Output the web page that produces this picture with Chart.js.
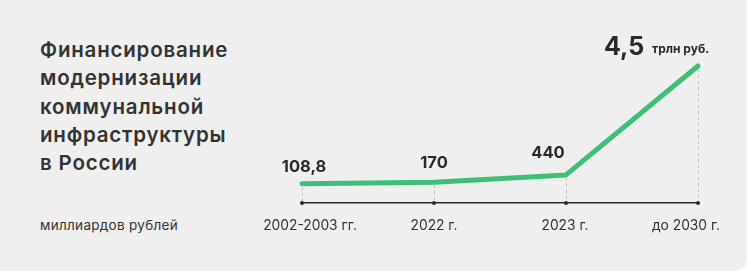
<!DOCTYPE html>
<html lang="ru">
<head>
<meta charset="utf-8">
<script src="https://cdn.jsdelivr.net/npm/chart.js@4.4.1/dist/chart.umd.min.js"></script>
<style>
  html, body { margin: 0; padding: 0; background: #fff; }
  body { width: 751px; height: 273px; overflow: hidden; position: relative; font-family: Inter, "Open Sans", sans-serif; }
  .card { position: absolute; left: -12px; top: -12px; width: 759px; height: 283px; background: #efefef; border-radius: 12px; }
  .title { position: absolute; left: 40px; top: 36px; font-size: 20.5px; font-weight: 600; line-height: 28.3px; color: #333; letter-spacing: 0.8px; }
  .units { position: absolute; left: 40px; top: 217px; font-size: 13.5px; color: #333; letter-spacing: 0.3px; }
  #wrap { position: absolute; left: 0; top: 0; width: 751px; height: 273px; }
</style>
</head>
<body>
<div class="card"></div>
<div class="title">Финансирование<br>модернизации<br>коммунальной<br>инфраструктуры<br>в России</div>
<div class="units">миллиардов рублей</div>
<div id="wrap"><canvas id="chart"></canvas></div>
<script>
// data
const periods = ['2002-2003 гг.', '2022 г.', '2023 г.', 'до 2030 г.'];
const funding = [108.8, 170, 440, 4500];          // млрд руб.
const valueLabels = ['108,8', '170', '440', '4,5'];
const bigUnit = 'трлн руб.';

// label placement (style only)
const labelDx = [2, 0, -18, -74];
const labelDy = [-17, -19, -22, -19];
const tickDx = [8, 0, -1, -12];

const green = '#3fbe78';
const dark = '#2a2a2a';

const labelsPlugin = {
    id: 'labels',
    afterDatasetsDraw(chart) {
        const c = chart.ctx;
        const pts = chart.getDatasetMeta(0).data;
        const xs = chart.scales.x;
        const axisY = chart.chartArea.bottom;
        c.save();
        // dashed droplines
        c.strokeStyle = '#bdbdbd';
        c.lineWidth = 1;
        c.setLineDash([3, 3]);
        pts.forEach(p => {
            c.beginPath();
            c.moveTo(Math.round(p.x) + 0.5, p.y + 3);
            c.lineTo(Math.round(p.x) + 0.5, axisY);
            c.stroke();
        });
        c.setLineDash([]);
        // tick dots
        c.fillStyle = dark;
        pts.forEach(p => {
            c.beginPath();
            c.arc(p.x, axisY, 2, 0, Math.PI * 2);
            c.fill();
        });
        // period labels
        c.fillStyle = '#333';
        c.font = '13.8px Inter, "Open Sans", sans-serif';
        c.textAlign = 'center';
        c.textBaseline = 'middle';
        periods.forEach((t, i) => {
            c.fillText(t, xs.getPixelForValue(i) + tickDx[i], 226);
        });
        // value labels
        c.fillStyle = dark;
        pts.forEach((p, i) => {
            const last = i === pts.length - 1;
            c.font = (last ? '700 25px' : '700 16.5px') + ' Inter, "Open Sans", sans-serif';
            c.textAlign = 'center';
            c.fillText(valueLabels[i], p.x + labelDx[i], p.y + labelDy[i]);
            if (last) {
                c.font = '700 12px Inter, "Open Sans", sans-serif';
                c.textAlign = 'left';
                c.fillText(bigUnit, p.x + labelDx[i] + 28, p.y + labelDy[i] + 2);
            }
        });
        c.restore();
    }
};

new Chart(document.getElementById('chart'), {
    type: 'line',
    data: {
        labels: periods,
        datasets: [{
            data: funding,
            borderColor: green,
            borderWidth: 5,
            borderCapStyle: 'round',
            borderJoinStyle: 'round',
            pointRadius: 0,
            tension: 0,
            clip: false
        }]
    },
    options: {
        responsive: true,
        maintainAspectRatio: false,
        animation: false,
        layout: { padding: { left: 302, right: 53, top: 66, bottom: 70 } },
        scales: {
            x: {
                offset: false,
                grid: { display: false, drawTicks: false },
                border: { display: true, color: dark, width: 1.5 },
                ticks: { display: false }
            },
            y: {
                display: false,
                min: -608,
                max: 4500
            }
        },
        plugins: {
            legend: { display: false },
            tooltip: { enabled: false }
        }
    },
    plugins: [labelsPlugin]
});
</script>
</body>
</html>
